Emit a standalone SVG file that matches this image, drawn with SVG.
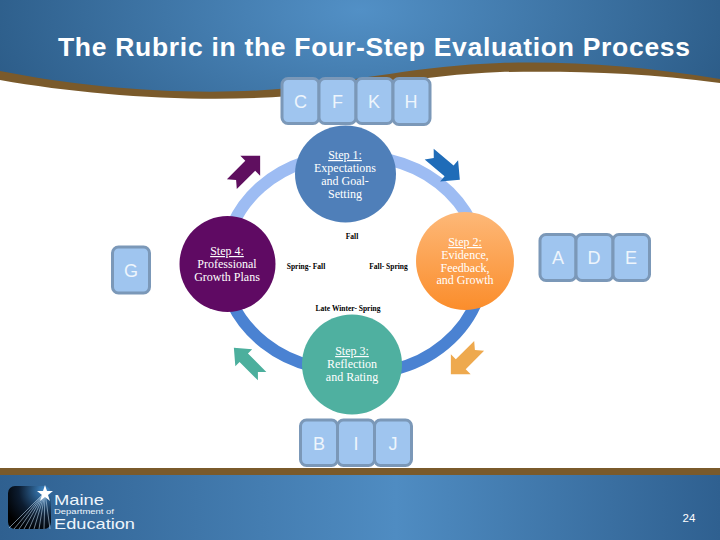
<svg xmlns="http://www.w3.org/2000/svg" width="720" height="540" viewBox="0 0 720 540">
<style>
.key rect{fill:#9fc5ef;stroke:#7b98b8;stroke-width:3}
.key text{font:18px "Liberation Sans",Arial,sans-serif;fill:#eef5fc;text-anchor:middle}
.step text{font:12px "Liberation Serif","Times New Roman",serif;fill:#fff;text-anchor:middle}
.step .head{text-decoration:underline}
.when{font:bold 7.5px "Liberation Serif","Times New Roman",serif;fill:#000;text-anchor:middle}
.up{fill:none;stroke:#9dbcf3;stroke-width:12}
.down{fill:none;stroke:#4a82d2;stroke-width:12}
.logo{font-family:"Liberation Sans",Arial,sans-serif;fill:#eef5fb}
</style>
<defs>
<radialGradient id="hdr" gradientUnits="userSpaceOnUse" cx="360" cy="10" r="390" gradientTransform="matrix(1 0 0 .5 0 5)">
<stop offset="0" stop-color="#5290c6"/><stop offset="1" stop-color="#2c5c88"/>
</radialGradient>
<linearGradient id="ftr" x1="0" x2="1" y1="0" y2="0">
<stop offset="0" stop-color="#2f6090"/><stop offset=".55" stop-color="#4f8cc2"/><stop offset="1" stop-color="#2f6090"/>
</linearGradient>
<linearGradient id="org" x1="0" x2="0" y1="0" y2="1">
<stop offset="0" stop-color="#fdb878"/><stop offset="1" stop-color="#fb8d2b"/>
</linearGradient>
<radialGradient id="logo" cx=".85" cy=".1" r="1">
<stop offset="0" stop-color="#3f88c8"/><stop offset=".6" stop-color="#0c1c30"/><stop offset="1" stop-color="#000"/>
</radialGradient>
<path id="arw" d="M-20-7L-14 0L-20 7H6V14L20 0L6-14V-7Z"/>
</defs>
<rect width="720" height="540" fill="#fff"/>
<g id="header">
<path d="M0 0H720V82C640 68 570 64 500 67C420 70 360 86 290 92C200 100 90 92 0 74Z" fill="url(#hdr)"/>
<path d="M0 71C90 89 200 97 290 88C360 80 420 66 500 63C570 61 640 66 720 79V83C640 72 570 71 500 72C420 75 360 90 290 96C200 103 90 96 0 80Z" fill="#7a5a2b"/>
<text x="58" y="56" font-family="Liberation Sans,Arial,sans-serif" font-size="26.5" font-weight="bold" fill="#fff" textLength="632" lengthAdjust="spacing">The Rubric in the Four-Step Evaluation Process</text>
</g>
<g id="footer">
<rect y="475" width="720" height="65" fill="url(#ftr)"/>
<rect y="468" width="720" height="7" fill="#7a5a2b"/>
<rect x="8" y="486" width="43" height="43" rx="7" fill="url(#logo)"/>
<g stroke="#b8d4ea" stroke-width=".6" fill="none">
<path d="M45 492L9 528M45 492L14 529M45 492L19 529M45 492L24 529M45 492L29 529M45 492L34 529M45 492L39 529M45 492L44 529M45 492L50 529"/>
</g>
<polygon points="45,485 47,491 53,491 48,495 50,501 45,497 40,501 42,495 37,491 43,491" fill="#fff"/>
<text class="logo" x="54" y="505" font-size="15" textLength="50" lengthAdjust="spacingAndGlyphs">Maine</text>
<text class="logo" x="54" y="514" font-size="7" textLength="60" lengthAdjust="spacingAndGlyphs">Department of</text>
<text class="logo" x="54" y="529" font-size="15" textLength="81" lengthAdjust="spacingAndGlyphs">Education</text>
<text x="689" y="522" font-family="Liberation Sans,Arial,sans-serif" font-size="11.5" fill="#fff" text-anchor="middle">24</text>
</g>
<g id="connectors">
<path class="up" d="M232 226A122 112 0 0 1 305 162"/>
<path class="up" d="M390 160A122 112 0 0 1 472 224"/>
<path class="down" d="M478 298A122 112 0 0 1 392 370"/>
<path class="down" d="M312 366A122 112 0 0 1 232 303"/>
<use href="#arw" transform="translate(246 170) rotate(-45)" fill="#5f0f5f"/>
<use href="#arw" transform="translate(444.5 167) rotate(40)" fill="#1f6cb8"/>
<use href="#arw" transform="translate(465 360) rotate(135)" fill="#eea94e"/>
<use href="#arw" transform="translate(248 362) rotate(225) scale(1 .85)" fill="#4caf9d"/>
</g>
<g id="step1" class="step"><ellipse cx="345.5" cy="174" rx="50.5" ry="48.5" fill="#4f7fb9"/>
<text x="345" y="159" class="head">Step 1:</text><text x="345" y="172">Expectations</text><text x="345" y="185">and Goal-</text><text x="345" y="198">Setting</text></g>
<g id="step2" class="step"><circle cx="465" cy="261" r="49" fill="url(#org)"/>
<text x="465" y="246" class="head">Step 2:</text><text x="465" y="258.5">Evidence,</text><text x="465" y="271.5">Feedback,</text><text x="465" y="284">and Growth</text></g>
<g id="step3" class="step"><circle cx="352" cy="364.5" r="50" fill="#4fb0a0"/>
<text x="352" y="355" class="head">Step 3:</text><text x="352" y="368">Reflection</text><text x="352" y="381">and Rating</text></g>
<g id="step4" class="step"><circle cx="227.5" cy="264" r="48" fill="#5f0a63"/>
<text x="227" y="255" class="head">Step 4:</text><text x="227" y="268">Professional</text><text x="227" y="281">Growth Plans</text></g>
<g id="timing">
<text class="when" x="352" y="239">Fall</text>
<text class="when" x="306" y="269">Spring- Fall</text>
<text class="when" x="388.5" y="269">Fall- Spring</text>
<text class="when" x="348" y="311">Late Winter- Spring</text>
</g>
<g id="key-c" class="key"><rect x="282" y="78.5" width="37" height="45" rx="6"/><text x="300.5" y="108">C</text></g>
<g id="key-f" class="key"><rect x="319" y="78.5" width="37" height="45" rx="6"/><text x="337.5" y="108">F</text></g>
<g id="key-k" class="key"><rect x="356" y="78.5" width="37" height="45" rx="6"/><text x="374" y="108">K</text></g>
<g id="key-h" class="key"><rect x="393" y="78.5" width="37" height="46" rx="6"/><text x="411" y="108">H</text></g>
<g id="key-g" class="key"><rect x="112.5" y="247" width="37" height="46" rx="6"/><text x="131" y="277">G</text></g>
<g id="key-a" class="key"><rect x="540" y="234.5" width="36" height="46" rx="6"/><text x="558" y="264">A</text></g>
<g id="key-d" class="key"><rect x="576" y="234.5" width="37" height="46" rx="6"/><text x="594" y="264">D</text></g>
<g id="key-e" class="key"><rect x="613" y="234.5" width="36.5" height="46" rx="6"/><text x="631" y="264">E</text></g>
<g id="key-b" class="key"><rect x="300.5" y="420" width="37" height="45.5" rx="6"/><text x="319" y="450">B</text></g>
<g id="key-i" class="key"><rect x="337.5" y="420" width="37" height="45.5" rx="6"/><text x="356" y="450">I</text></g>
<g id="key-j" class="key"><rect x="374.5" y="420" width="37" height="45.5" rx="6"/><text x="393" y="450">J</text></g>
</svg>
